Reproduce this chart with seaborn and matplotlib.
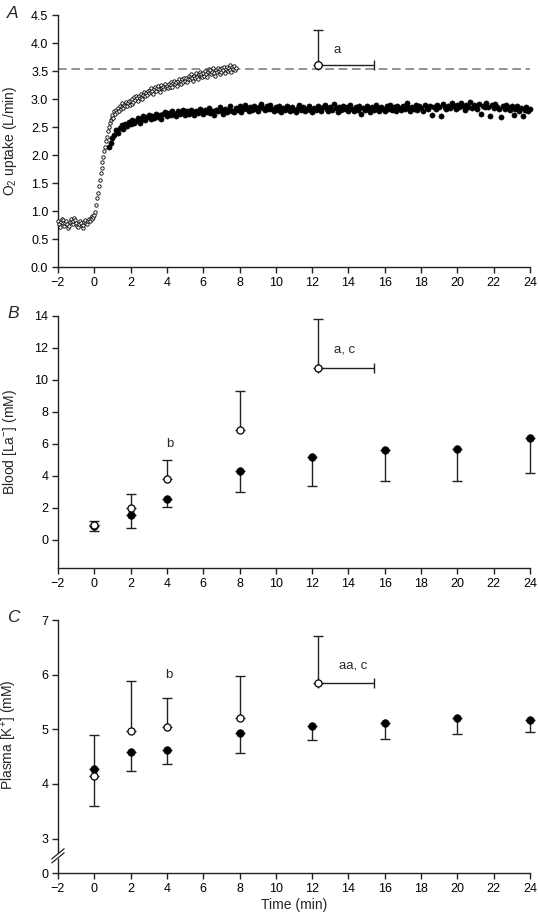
import numpy
import seaborn as sea
from matplotlib import pyplot

# ---- panel A: breath-by-breath O2 uptake (L/min) ----
o2_open_t0 = -2.0   # open series sampled every 0.05 min from -2 min
o2_open_step = 0.05
o2_open = [
    0.82, 0.76, 0.72, 0.80, 0.86, 0.84, 0.78, 0.74, 0.79, 0.83,
    0.76, 0.70, 0.73, 0.80, 0.85, 0.81, 0.77, 0.83, 0.87, 0.84,
    0.79, 0.74, 0.71, 0.76, 0.82, 0.78, 0.73, 0.69, 0.75, 0.81,
    0.84, 0.79, 0.76, 0.82, 0.86, 0.83, 0.88, 0.91, 0.86, 0.90,
    0.92, 0.98, 1.10, 1.24, 1.33, 1.45, 1.56, 1.67, 1.76, 1.88,
    1.97, 2.07, 2.14, 2.25, 2.33, 2.43, 2.50, 2.58, 2.63, 2.66,
    2.72, 2.66, 2.78, 2.74, 2.81, 2.76, 2.84, 2.79, 2.87, 2.82,
    2.86, 2.92, 2.84, 2.90, 2.88, 2.94, 2.87, 2.93, 2.97, 2.90,
    2.96, 2.91, 3.00, 2.95, 3.03, 2.98, 3.05, 3.01, 2.97, 3.06,
    3.02, 3.09, 3.04, 3.00, 3.08, 3.13, 3.05, 3.10, 3.07, 3.14,
    3.10, 3.16, 3.12, 3.19, 3.14, 3.09, 3.17, 3.21, 3.15, 3.19,
    3.23, 3.17, 3.13, 3.20, 3.25, 3.19, 3.22, 3.17, 3.26, 3.21,
    3.24, 3.19, 3.27, 3.22, 3.30, 3.25, 3.21, 3.29, 3.33, 3.26,
    3.30, 3.24, 3.32, 3.36, 3.29, 3.33, 3.27, 3.35, 3.31, 3.38,
    3.33, 3.38, 3.31, 3.36, 3.41, 3.35, 3.39, 3.44, 3.37, 3.33,
    3.42, 3.38, 3.46, 3.40, 3.36, 3.44, 3.48, 3.41, 3.45, 3.39,
    3.47, 3.42, 3.50, 3.45, 3.40, 3.48, 3.53, 3.46, 3.51, 3.44,
    3.49, 3.55, 3.47, 3.42, 3.52, 3.48, 3.56, 3.50, 3.45, 3.53,
    3.49, 3.55, 3.51, 3.58, 3.47, 3.53, 3.57, 3.50, 3.56, 3.60,
    3.52, 3.48, 3.57, 3.54, 3.59, 3.51, 3.55,
]
o2_filled_t0 = 0.8   # filled series sampled every 0.1 min from 0.8 min
o2_filled_step = 0.1
o2_filled = [
    2.14, 2.22, 2.31, 2.36, 2.44, 2.40, 2.49, 2.53, 2.47, 2.56,
    2.52, 2.59, 2.55, 2.63, 2.57, 2.61, 2.66, 2.58, 2.64, 2.69,
    2.62, 2.67, 2.71, 2.64, 2.70, 2.66, 2.74, 2.68, 2.72, 2.65,
    2.73, 2.77, 2.69, 2.75, 2.71, 2.79, 2.74, 2.70, 2.78, 2.73,
    2.76, 2.81, 2.72, 2.78, 2.74, 2.80, 2.77, 2.71, 2.79, 2.75,
    2.82, 2.76, 2.73, 2.80, 2.77, 2.84, 2.75, 2.79, 2.72, 2.81,
    2.78, 2.86, 2.80, 2.74, 2.83, 2.77, 2.81, 2.88, 2.79, 2.76,
    2.84, 2.80, 2.87, 2.77, 2.82, 2.90, 2.83, 2.79, 2.86, 2.81,
    2.88, 2.83, 2.79, 2.86, 2.91, 2.84, 2.80, 2.87, 2.82, 2.89,
    2.83, 2.78, 2.85, 2.81, 2.88, 2.76, 2.84, 2.80, 2.87, 2.82,
    2.79, 2.86, 2.81, 2.77, 2.84, 2.89, 2.80, 2.85, 2.78, 2.83,
    2.87, 2.81, 2.76, 2.84, 2.80, 2.88, 2.82, 2.78, 2.85, 2.90,
    2.83, 2.79, 2.86, 2.81, 2.91, 2.84, 2.77, 2.85, 2.80, 2.88,
    2.82, 2.86, 2.79, 2.89, 2.83, 2.78, 2.85, 2.81, 2.87, 2.74,
    2.84, 2.80, 2.88, 2.83, 2.77, 2.86, 2.81, 2.89, 2.84, 2.79,
    2.86, 2.82, 2.78, 2.87, 2.83, 2.90, 2.81, 2.85, 2.79, 2.88,
    2.84, 2.80, 2.87, 2.82, 2.92, 2.85, 2.79, 2.86, 2.83, 2.89,
    2.81, 2.87, 2.84, 2.78, 2.90, 2.85, 2.82, 2.88, 2.72, 2.86,
    2.83, 2.89, 2.85, 2.70, 2.91, 2.86, 2.82, 2.88, 2.84, 2.93,
    2.87, 2.83, 2.90, 2.85, 2.92, 2.88, 2.81, 2.89, 2.86, 2.94,
    2.84, 2.90, 2.87, 2.83, 2.91, 2.74, 2.88, 2.85, 2.92, 2.86,
    2.70, 2.89, 2.84, 2.91, 2.86, 2.82, 2.68, 2.88, 2.83, 2.90,
    2.85, 2.80, 2.87, 2.71, 2.83, 2.88, 2.79, 2.84, 2.69, 2.81,
    2.86, 2.78, 2.82,
]
o2_peak = 3.53                 # dashed reference line
o2_end_t, o2_end = 12.3, 3.60  # open marker: time to exhaustion
o2_end_sd, o2_end_t_sd = 0.63, 3.1

# ---- panels B and C: sampled time points ----
times_filled = [0, 2, 4, 8, 12, 16, 20, 24]
times_open = [0, 2, 4, 8]
end_time, end_time_sd = 12.3, 3.1

la_filled = [0.85, 1.52, 2.56, 4.29, 5.16, 5.58, 5.66, 6.35]
la_filled_sd = [0.30, 0.77, 0.54, 1.33, 1.79, 1.92, 2.00, 2.18]
la_open = [0.90, 1.98, 3.81, 6.87]
la_open_sd = [0.25, 0.89, 1.19, 2.42]
la_end, la_end_sd = 10.75, 3.06

k_filled = [4.28, 4.59, 4.62, 4.93, 5.07, 5.11, 5.21, 5.17]
k_filled_sd = [0.68, 0.35, 0.25, 0.37, 0.27, 0.28, 0.30, 0.22]
k_open = [4.14, 4.97, 5.04, 5.21]
k_open_sd = [0.76, 0.92, 0.53, 0.77]
k_end, k_end_sd = 5.85, 0.86

x_ticks = list(range(-2, 25, 2))
ink = "#222222"
tick_size = 9
label_size = 10
note_size = 9.5

sea.set_style("ticks")
pyplot.rcParams["font.family"] = ["Liberation Sans", "DejaVu Sans"]
pyplot.rcParams["mathtext.fontset"] = "custom"
pyplot.rcParams["mathtext.rm"] = "Liberation Sans"
pyplot.rcParams["mathtext.default"] = "regular"

fig = pyplot.figure(figsize=(5.38, 9.16), dpi=100)
ax_a = fig.add_axes([0.1078, 0.7085, 0.8773, 0.2751])
ax_b = fig.add_axes([0.1078, 0.3796, 0.8773, 0.2757])
ax_c = fig.add_axes([0.1078, 0.0469, 0.8773, 0.2762])


def style_axis(ax):
    sea.despine(ax=ax)
    for side in ["left", "bottom"]:
        ax.spines[side].set_color(ink)
        ax.spines[side].set_linewidth(1.0)
    ax.tick_params(colors=ink, labelcolor="black", labelsize=tick_size,
                   length=4, width=1.0, direction="out", pad=3)
    ax.set_xlim(-2, 24)
    ax.set_xticks(x_ticks)
    ax.set_xlabel("")


def bars(ax, x, y, yerr, xerr=None):
    cont = ax.errorbar(x, y, yerr=yerr, xerr=xerr, fmt="none", ecolor=ink,
                       elinewidth=1.0, capsize=3.5, capthick=1.0, zorder=2)
    for art in cont.get_children():
        art.set_clip_on(False)


def draw_means(ax, t_filled, filled, filled_sd, t_open, opened, opened_sd,
               end_y, end_sd):
    # one-sided bars: filled downwards, open upwards
    bars(ax, t_filled, filled, [filled_sd, [0] * len(filled_sd)])
    bars(ax, t_open, opened, [[0] * len(opened_sd), opened_sd])
    bars(ax, [end_time], [end_y], [[0], [end_sd]], [[0], [end_time_sd]])
    sea.scatterplot(x=t_filled, y=filled, ax=ax, color="black", s=30,
                    edgecolor="black", linewidth=0.5, zorder=3, clip_on=False)
    sea.scatterplot(x=t_open + [end_time], y=opened + [end_y], ax=ax,
                    color="white", s=26, edgecolor="black", linewidth=0.9,
                    zorder=4, clip_on=False)


# panel A
t_open_a = o2_open_t0 + o2_open_step * numpy.arange(len(o2_open))
t_filled_a = o2_filled_t0 + o2_filled_step * numpy.arange(len(o2_filled))
ax_a.axhline(o2_peak, color="#8a8a8a", lw=1.3, ls=(0, (4.8, 2.6)), zorder=1)
sea.scatterplot(x=t_filled_a, y=o2_filled, ax=ax_a, color="black", s=14,
                edgecolor="black", linewidth=0.4, zorder=3, clip_on=False)
sea.scatterplot(x=t_open_a, y=o2_open, ax=ax_a, color="white", s=6,
                edgecolor="black", linewidth=0.6, zorder=4, clip_on=False)
bars(ax_a, [o2_end_t], [o2_end], [[0], [o2_end_sd]], [[0], [o2_end_t_sd]])
sea.scatterplot(x=[o2_end_t], y=[o2_end], ax=ax_a, color="white", s=30,
                edgecolor="black", linewidth=0.9, zorder=5)
ax_a.text(13.4, 3.87, "a", fontsize=note_size, ha="center", va="center")
style_axis(ax_a)
ax_a.set_ylim(0, 4.5)
ax_a.set_yticks(numpy.arange(0, 4.51, 0.5))
ax_a.set_yticklabels([f"{v:.1f}" for v in numpy.arange(0, 4.51, 0.5)])
ax_a.set_ylabel(r"O$_{2}$ uptake (L/min)", fontsize=label_size)

# panel B
draw_means(ax_b, times_filled, la_filled, la_filled_sd, times_open, la_open,
           la_open_sd, la_end, la_end_sd)
ax_b.text(4.17, 6.0, "b", fontsize=note_size, ha="center", va="center")
ax_b.text(13.8, 11.87, "a, c", fontsize=note_size, ha="center", va="center")
style_axis(ax_b)
ax_b.set_ylim(-1.8, 14)
ax_b.set_yticks(range(0, 15, 2))
ax_b.set_ylabel(r"Blood [La$^{-}$] (mM)", fontsize=label_size)

# panel C (broken axis: bottom of axis labelled 0)
draw_means(ax_c, times_filled, k_filled, k_filled_sd, times_open, k_open,
           k_open_sd, k_end, k_end_sd)
ax_c.text(4.08, 6.0, "b", fontsize=note_size, ha="center", va="center")
ax_c.text(14.25, 6.16, "aa, c", fontsize=note_size, ha="center",
          va="center")
style_axis(ax_c)
c_bottom = 2.37
ax_c.set_ylim(c_bottom, 7)
ax_c.set_yticks([c_bottom, 3, 4, 5, 6, 7])
ax_c.set_yticklabels(["0", "3", "4", "5", "6", "7"])
ax_c.set_ylabel(r"Plasma [K$^{+}$] (mM)", fontsize=label_size)
ax_c.set_xlabel("Time (min)", fontsize=label_size, labelpad=2)
# break marks on the y axis
ax_c.plot([-0.006, 0.006], [0.058, 0.072], transform=ax_c.transAxes,
          color="white", lw=3.0, clip_on=False, zorder=6,
          solid_capstyle="butt")
for dy in (0.0, 0.016):
    ax_c.plot([-0.013, 0.013], [0.040 + dy, 0.080 + dy],
              transform=ax_c.transAxes, color=ink, lw=0.9, clip_on=False,
              zorder=7)

ax_a.yaxis.set_label_coords(-0.082, 0.5)
ax_b.yaxis.set_label_coords(-0.082, 0.5)
ax_c.yaxis.set_label_coords(-0.082, 0.545)

for letter, ypos in (("A", 13), ("B", 313), ("C", 617)):
    fig.text(13 / 538, 1 - ypos / 916, letter, fontsize=12.5, style="italic",
             ha="center", va="center")

fig.savefig("out.png", dpi=100)
